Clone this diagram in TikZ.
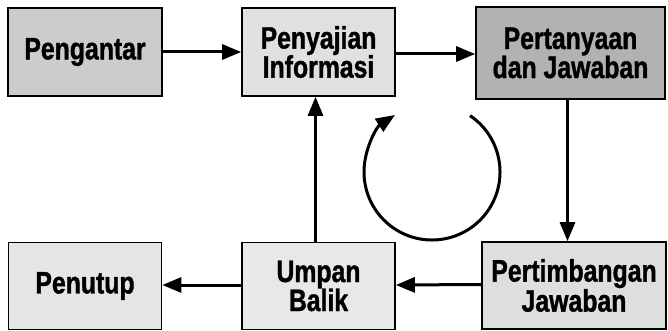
\documentclass[tikz,border=0pt]{standalone}
\usepackage{fontspec}
\setmainfont{Liberation Sans}[FakeStretch=0.8, BoldFeatures={FakeBold=1.2}]
\usetikzlibrary{arrows.meta}
\begin{document}
\begin{tikzpicture}[x=1pt,y=1pt,
  stage/.style={draw=black, line width=1.6pt, inner sep=0pt, align=center,
    font=\bfseries\fontsize{31}{29}\selectfont, minimum height=88pt},
  flow/.style={line width=3pt, -{Triangle[length=19pt,width=15pt]}}]
\useasboundingbox (0,0) rectangle (668,330);
\fill[white] (0,0) rectangle (668,330);
% top row
\node[stage, fill=black!20, minimum width=154pt] (pengantar) at (85,278) {Pengantar};
\node[stage, fill=black!12, minimum width=153pt] (penyajian) at (318.5,278) {Penyajian\\Informasi};
\node[stage, fill=black!30, minimum width=189pt, minimum height=92pt] (tanya) at (570.5,277) {Pertanyaan\\dan Jawaban};
% bottom row
\node[stage, fill=black!10, minimum width=153pt, minimum height=87pt] (penutup) at (85,44) {Penutup};
\node[stage, fill=black!9, minimum width=153pt, minimum height=87pt] (umpan) at (318.5,44) {Umpan\\Balik};
\node[stage, fill=black!13, minimum width=184pt, minimum height=87pt] (timbang) at (574,44.5) {Pertimbangan\\Jawaban};
% connectors
\draw[flow] (pengantar.east) -- (penyajian.west);
\draw[flow] ([yshift=-2pt]penyajian.east) -- ([yshift=-2pt]tanya.west |- penyajian.east);
\draw[flow] ([xshift=-3pt]tanya.south) -- ([xshift=-3pt]tanya.south |- timbang.north);
\draw[flow] ([yshift=1pt]timbang.west) -- ([yshift=1pt]umpan.east);
\draw[flow] ([yshift=1pt]umpan.west) -- ([yshift=1pt]penutup.east);
\draw[flow] ([xshift=-3pt]umpan.north) -- ([xshift=-3pt]penyajian.south);
% cycle symbol
\coordinate (cyc) at (432,158);
\draw[flow] ([shift={(56:68)}]cyc) arc[start angle=56, end angle=-237, radius=68];
\end{tikzpicture}
\end{document}
